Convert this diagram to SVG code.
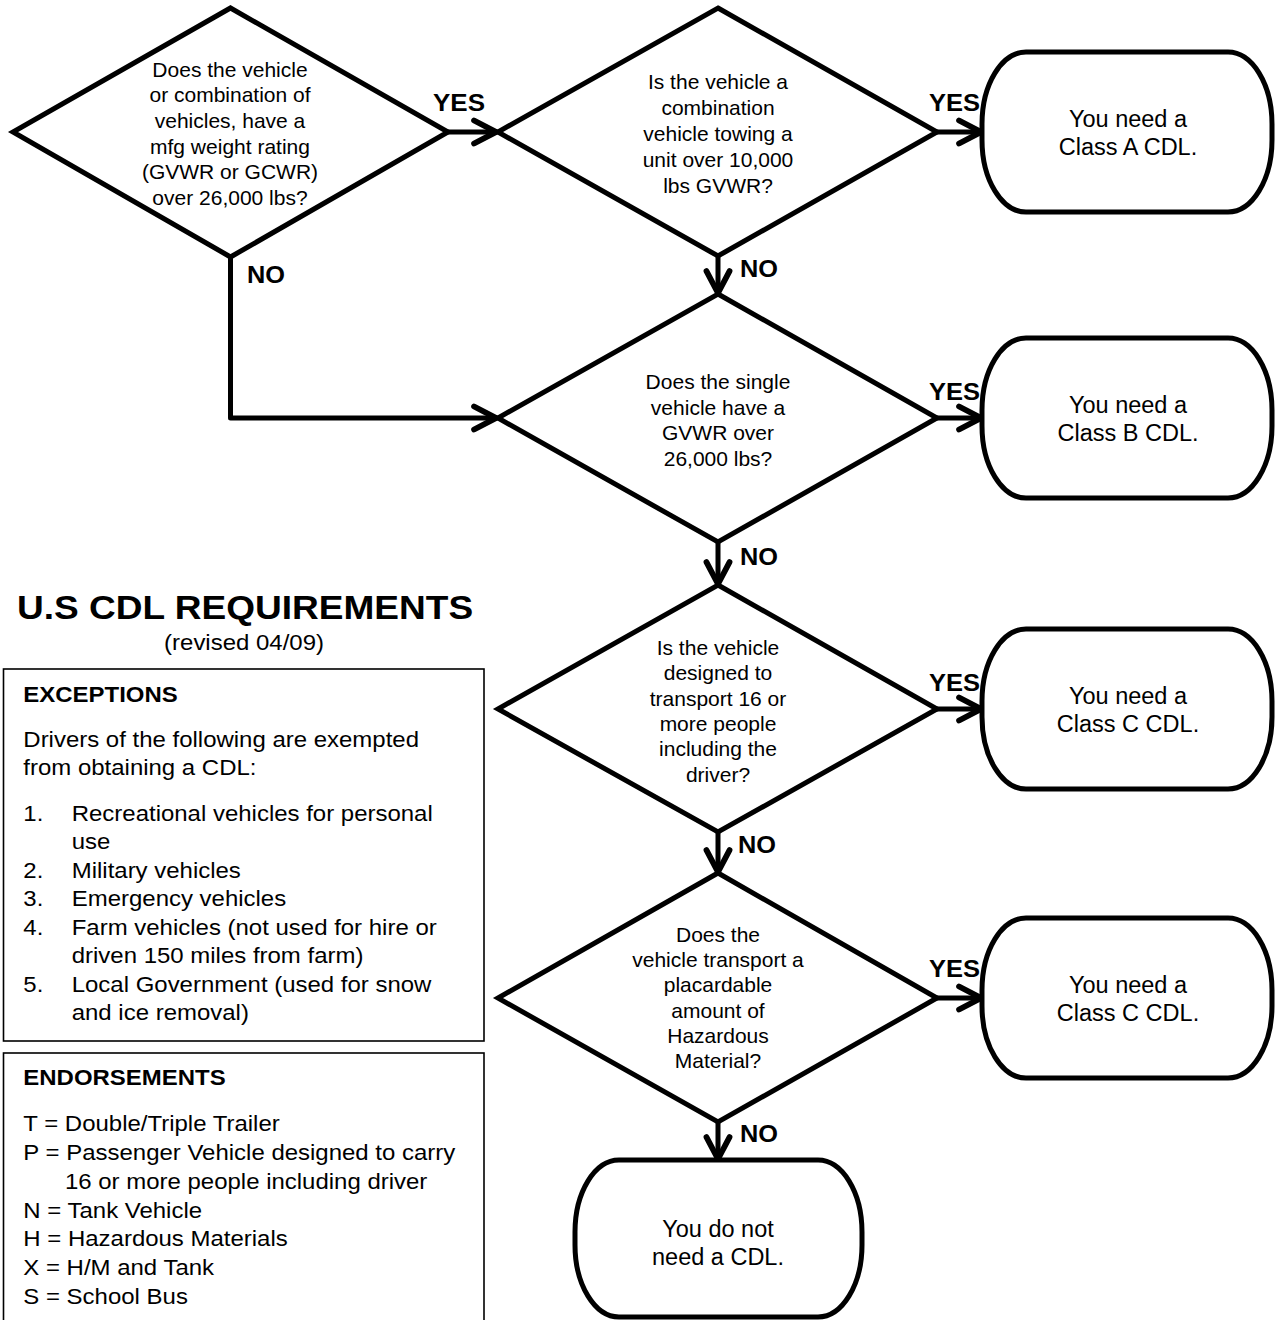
<svg xmlns="http://www.w3.org/2000/svg" width="1275" height="1320" viewBox="0 0 1275 1320">
<defs>
<style>
.shape{fill:#fff;stroke:#000;stroke-width:5;stroke-linejoin:miter}
.conn{fill:none;stroke:#000;stroke-width:5;stroke-linecap:round;stroke-linejoin:round}
.box{fill:#fff;stroke:#000;stroke-width:1.6}
.q{font-family:"Liberation Sans",Arial,Helvetica,sans-serif;font-size:21px;text-anchor:middle;fill:#000}
.t{font-family:"Liberation Sans",Arial,Helvetica,sans-serif;font-size:23.5px;text-anchor:middle;fill:#000}
.lbl{font-family:"Liberation Sans",Arial,Helvetica,sans-serif;font-size:23px;font-weight:bold;fill:#000}
.p{font-family:"Liberation Sans",Arial,Helvetica,sans-serif;font-size:22px;fill:#000}
.pb{font-family:"Liberation Sans",Arial,Helvetica,sans-serif;font-size:22px;font-weight:bold;fill:#000}
.title{font-family:"Liberation Sans",Arial,Helvetica,sans-serif;font-size:34px;font-weight:bold;text-anchor:middle;fill:#000}
.sub{font-family:"Liberation Sans",Arial,Helvetica,sans-serif;font-size:22px;text-anchor:middle;fill:#000}
</style>
<marker id="arr" markerUnits="userSpaceOnUse" markerWidth="30" markerHeight="30" viewBox="-22 -13 26 26" refX="0" refY="0" orient="auto">
<path d="M-19,-10 L0,0 L-19,10" fill="none" stroke="#000" stroke-width="5" stroke-linecap="round" stroke-linejoin="miter"/>
</marker>
</defs>
<rect width="1275" height="1320" fill="#fff"/>

<g id="connectors">
<path class="conn" d="M448,132 L496,132" marker-end="url(#arr)"/>
<path class="conn" d="M937,132 L981,132" marker-end="url(#arr)"/>
<path class="conn" d="M718,256 L718,293" marker-end="url(#arr)"/>
<path class="conn" d="M230.5,257 L230.5,418 L496,418" marker-end="url(#arr)"/>
<path class="conn" d="M937,418 L981,418" marker-end="url(#arr)"/>
<path class="conn" d="M718,542 L718,584" marker-end="url(#arr)"/>
<path class="conn" d="M937,709 L981,709" marker-end="url(#arr)"/>
<path class="conn" d="M718,832 L718,872" marker-end="url(#arr)"/>
<path class="conn" d="M937,998 L981,998" marker-end="url(#arr)"/>
<path class="conn" d="M718,1122 L718,1159" marker-end="url(#arr)"/>
<text class="lbl" x="433" y="111" textLength="52" lengthAdjust="spacingAndGlyphs">YES</text>
<text class="lbl" x="929" y="111" textLength="51" lengthAdjust="spacingAndGlyphs">YES</text>
<text class="lbl" x="929" y="400" textLength="51" lengthAdjust="spacingAndGlyphs">YES</text>
<text class="lbl" x="929" y="691" textLength="51" lengthAdjust="spacingAndGlyphs">YES</text>
<text class="lbl" x="929" y="977" textLength="51" lengthAdjust="spacingAndGlyphs">YES</text>
<text class="lbl" x="247" y="283" textLength="38" lengthAdjust="spacingAndGlyphs">NO</text>
<text class="lbl" x="740" y="277" textLength="38" lengthAdjust="spacingAndGlyphs">NO</text>
<text class="lbl" x="740" y="565" textLength="38" lengthAdjust="spacingAndGlyphs">NO</text>
<text class="lbl" x="738" y="853" textLength="38" lengthAdjust="spacingAndGlyphs">NO</text>
<text class="lbl" x="740" y="1142" textLength="38" lengthAdjust="spacingAndGlyphs">NO</text>
</g>

<g id="q1">
<polygon class="shape" points="230.5,8 448,132 230.5,257 13,132"/>
<text class="q" x="230" y="76.7">Does the vehicle</text>
<text class="q" x="230" y="102.3">or combination of</text>
<text class="q" x="230" y="127.9">vehicles, have a</text>
<text class="q" x="230" y="153.5">mfg weight rating</text>
<text class="q" x="230" y="179.1">(GVWR or GCWR)</text>
<text class="q" x="230" y="204.7">over 26,000 lbs?</text>
</g>

<g id="q2">
<polygon class="shape" points="718,8 937,132 718,256 498,132"/>
<text class="q" x="718" y="89">Is the vehicle a</text>
<text class="q" x="718" y="115">combination</text>
<text class="q" x="718" y="141">vehicle towing a</text>
<text class="q" x="718" y="167">unit over 10,000</text>
<text class="q" x="718" y="192.5">lbs GVWR?</text>
</g>

<g id="q3">
<polygon class="shape" points="718,294 937,418 718,542 498,418"/>
<text class="q" x="718" y="389">Does the single</text>
<text class="q" x="718" y="414.6">vehicle have a</text>
<text class="q" x="718" y="440.2">GVWR over</text>
<text class="q" x="718" y="465.8">26,000 lbs?</text>
</g>

<g id="q4">
<polygon class="shape" points="718,585 937,709 718,832 498,709"/>
<text class="q" x="718" y="655">Is the vehicle</text>
<text class="q" x="718" y="680.3">designed to</text>
<text class="q" x="718" y="705.7">transport 16 or</text>
<text class="q" x="718" y="731">more people</text>
<text class="q" x="718" y="756.3">including the</text>
<text class="q" x="718" y="781.7">driver?</text>
</g>

<g id="q5">
<polygon class="shape" points="718,873 937,998 718,1122 498,998"/>
<text class="q" x="718" y="941.7">Does the</text>
<text class="q" x="718" y="967">vehicle transport a</text>
<text class="q" x="718" y="992.3">placardable</text>
<text class="q" x="718" y="1017.6">amount of</text>
<text class="q" x="718" y="1043">Hazardous</text>
<text class="q" x="718" y="1068.3">Material?</text>
</g>

<g id="classA">
<rect class="shape" x="982" y="52" width="290" height="160" rx="44" ry="72"/>
<text class="t" x="1128" y="126.7">You need a</text>
<text class="t" x="1128" y="155">Class A CDL.</text>
</g>

<g id="classB">
<rect class="shape" x="982" y="338" width="290" height="160" rx="44" ry="72"/>
<text class="t" x="1128" y="413">You need a</text>
<text class="t" x="1128" y="441.3">Class B CDL.</text>
</g>

<g id="classC1">
<rect class="shape" x="982" y="629" width="290" height="160" rx="44" ry="72"/>
<text class="t" x="1128" y="704">You need a</text>
<text class="t" x="1128" y="732.3">Class C CDL.</text>
</g>

<g id="classC2">
<rect class="shape" x="982" y="918" width="290" height="160" rx="44" ry="72"/>
<text class="t" x="1128" y="993">You need a</text>
<text class="t" x="1128" y="1021.3">Class C CDL.</text>
</g>

<g id="noCDL">
<rect class="shape" x="575" y="1160" width="287" height="157" rx="44" ry="72"/>
<text class="t" x="718" y="1236.7">You do not</text>
<text class="t" x="718" y="1265">need a CDL.</text>
</g>

<g id="heading" transform="scale(1.09 1)">
<text class="title" x="224.8" y="619">U.S CDL REQUIREMENTS</text>
<text class="sub" x="223.9" y="650">(revised 04/09)</text>
</g>

<g id="exceptions">
<rect class="box" x="3.5" y="669" width="480.5" height="372"/>
<g transform="scale(1.09 1)">
<text class="pb" x="21.4" y="702">EXCEPTIONS</text>
<text class="p" x="21.4" y="746.7">Drivers of the following are exempted</text>
<text class="p" x="21.4" y="775">from obtaining a CDL:</text>
<text class="p" x="21.4" y="820.7">1.</text>
<text class="p" x="65.8" y="820.7">Recreational vehicles for personal</text>
<text class="p" x="65.8" y="849.2">use</text>
<text class="p" x="21.4" y="877.7">2.</text>
<text class="p" x="65.8" y="877.7">Military vehicles</text>
<text class="p" x="21.4" y="906.2">3.</text>
<text class="p" x="65.8" y="906.2">Emergency vehicles</text>
<text class="p" x="21.4" y="934.7">4.</text>
<text class="p" x="65.8" y="934.7">Farm vehicles (not used for hire or</text>
<text class="p" x="65.8" y="963.2">driven 150 miles from farm)</text>
<text class="p" x="21.4" y="991.7">5.</text>
<text class="p" x="65.8" y="991.7">Local Government (used for snow</text>
<text class="p" x="65.8" y="1020.2">and ice removal)</text>
</g>
</g>

<g id="endorsements">
<rect class="box" x="3.5" y="1053" width="480.5" height="280"/>
<g transform="scale(1.09 1)">
<text class="pb" x="21.4" y="1085">ENDORSEMENTS</text>
<text class="p" x="21.4" y="1131.5">T = Double/Triple Trailer</text>
<text class="p" x="21.4" y="1160.2">P = Passenger Vehicle designed to carry</text>
<text class="p" x="59.6" y="1188.9">16 or more people including driver</text>
<text class="p" x="21.4" y="1217.6">N = Tank Vehicle</text>
<text class="p" x="21.4" y="1246.3">H = Hazardous Materials</text>
<text class="p" x="21.4" y="1275">X = H/M and Tank</text>
<text class="p" x="21.4" y="1303.7">S = School Bus</text>
</g>
</g>
</svg>
